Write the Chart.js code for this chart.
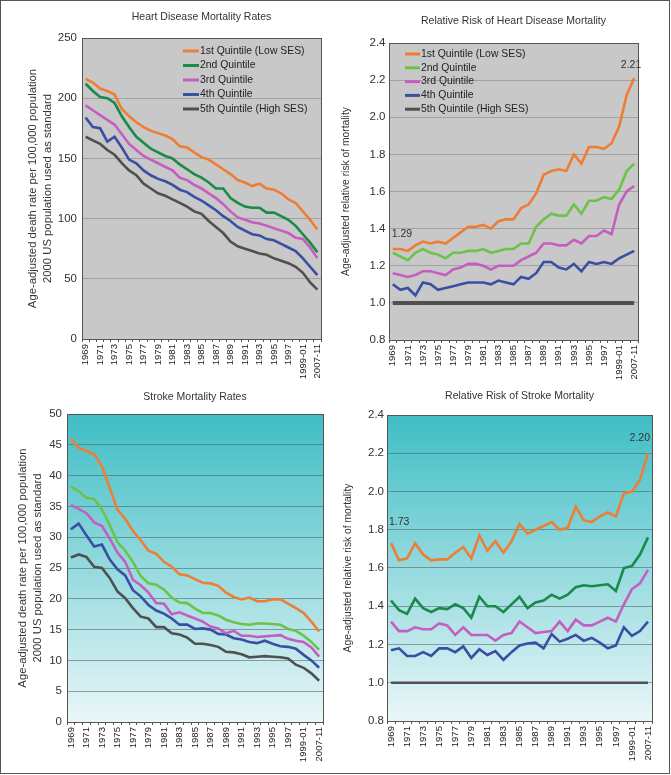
<!DOCTYPE html>
<html>
<head>
<meta charset="utf-8">
<script src="https://cdn.jsdelivr.net/npm/chart.js@4.4.1/dist/chart.umd.min.js"></script>
<style>
  body { margin: 0; background: #fff; }
  #page { position: relative; width: 671px; height: 775px; }
  #frame { position: absolute; left: 0; top: 0; width: 670px; height: 774px; box-sizing: border-box; border: 1px solid #555; pointer-events: none; }
  canvas { position: absolute; }
</style>
</head>
<body>
<div id="page">
  <canvas id="heartRate" width="335" height="385" style="left:0;top:0"></canvas>
  <canvas id="heartRisk" width="336" height="385" style="left:335px;top:0"></canvas>
  <canvas id="strokeRate" width="335" height="390" style="left:0;top:385px"></canvas>
  <canvas id="strokeRisk" width="336" height="390" style="left:335px;top:385px"></canvas>
  <div id="frame"></div>
</div>
<script>
const periods = ['1969','1970','1971','1972','1973','1974','1975','1976','1977','1978',
  '1979','1980','1981','1982','1983','1984','1985','1986','1987','1988',
  '1989','1990','1991','1992','1993','1994','1995','1996','1997','1998',
  '1999-01','2002-06','2007-11'];
const quintiles = ['1st Quintile (Low SES)', '2nd Quintile', '3rd Quintile', '4th Quintile', '5th Quintile (High SES)'];

// heart disease death rates per 100,000
const heartQ1 = [216,213,208,206,203,191,185,180,176,173,171,169,166,160,159,155,151,149,145,141,137,132,130,127,129,125,124,121,116,113,106,99,91];
const heartQ2 = [212,206,201,200,196,185,176,168,163,158,155,152,150,145,141,137,134,130,125,125,117,113,110,109,109,105,105,102,99,94,87,80,72];
const heartQ3 = [194,190,186,182,178,170,162,157,152,149,146,143,140,134,132,128,125,121,117,112,106,101,99,97,96,94,92,90,88,84,83,76,67];
const heartQ4 = [184,176,175,164,168,159,149,146,140,136,133,131,128,124,122,118,115,111,107,102,98,93,90,87,86,83,82,79,76,73,67,60,53];
const heartQ5 = [168,165,162,157,153,146,140,136,129,125,121,119,116,113,110,106,104,98,93,88,81,77,75,73,71,70,67,65,63,60,55,47,41];

// heart disease relative risk (vs 5th quintile)
const heartRiskQ1 = [1.29,1.29,1.28,1.31,1.33,1.32,1.33,1.32,1.35,1.38,1.41,1.41,1.42,1.40,1.44,1.45,1.45,1.51,1.53,1.59,1.69,1.71,1.72,1.71,1.80,1.75,1.84,1.84,1.83,1.86,1.95,2.12,2.21];
const heartRiskQ2 = [1.27,1.25,1.23,1.27,1.29,1.27,1.26,1.24,1.27,1.27,1.28,1.28,1.29,1.27,1.28,1.29,1.29,1.32,1.32,1.41,1.45,1.48,1.47,1.47,1.53,1.48,1.55,1.55,1.57,1.56,1.61,1.71,1.75];
const heartRiskQ3 = [1.16,1.15,1.14,1.15,1.17,1.17,1.16,1.15,1.18,1.19,1.21,1.21,1.20,1.18,1.20,1.20,1.20,1.23,1.25,1.27,1.32,1.32,1.31,1.31,1.34,1.32,1.36,1.36,1.39,1.37,1.53,1.60,1.63];
const heartRiskQ4 = [1.10,1.07,1.08,1.04,1.11,1.10,1.07,1.08,1.09,1.10,1.11,1.11,1.11,1.10,1.12,1.11,1.10,1.14,1.13,1.16,1.22,1.22,1.19,1.18,1.21,1.17,1.22,1.21,1.22,1.21,1.24,1.26,1.28];
const heartRiskQ5 = [1,1,1,1,1,1,1,1,1,1,1,1,1,1,1,1,1,1,1,1,1,1,1,1,1,1,1,1,1,1,1,1,1];

// stroke death rates per 100,000
const strokeQ1 = [46.0,44.5,44.0,43.5,41.5,38.0,34.5,33.0,31.0,29.5,27.8,27.3,26.0,25.2,24.0,23.8,23.2,22.6,22.5,22.1,21.0,20.3,19.9,20.2,19.6,19.6,19.9,19.9,19.2,18.5,17.7,16.3,14.7];
const strokeQ2 = [38.2,37.5,36.4,36.2,34.5,32.0,29.2,27.8,26.0,23.7,22.5,22.3,21.5,20.2,19.4,19.3,18.4,17.7,17.7,17.3,16.6,16.2,15.9,15.8,16.0,16.0,15.9,15.8,15.1,14.8,14.0,13.0,11.7];
const strokeQ3 = [35.2,34.6,33.9,32.4,31.8,29.8,27.5,26.0,23.1,22.2,21.0,19.3,19.2,17.5,17.8,17.3,16.8,16.3,15.5,15.2,14.4,14.8,14.0,14.0,13.8,13.9,14.0,14.1,13.5,13.2,13.0,12.1,10.6];
const strokeQ4 = [31.3,32.2,30.3,28.5,28.8,26.4,24.8,23.8,21.4,20.4,19.0,18.1,17.6,16.8,15.8,15.8,15.1,15.2,15.0,14.3,14.2,13.6,13.4,13.0,12.8,13.2,12.7,12.3,12.2,11.9,10.9,10.0,8.8];
const strokeQ5 = [26.7,27.2,26.8,25.2,25.0,23.4,21.2,20.1,18.5,17.1,16.8,15.4,15.4,14.4,14.2,13.7,12.7,12.7,12.5,12.2,11.4,11.3,11.0,10.5,10.6,10.7,10.6,10.5,10.3,9.3,8.8,7.9,6.7];

// stroke relative risk
const strokeRiskQ1 = [1.73,1.64,1.65,1.73,1.67,1.64,1.645,1.645,1.68,1.71,1.65,1.77,1.69,1.74,1.68,1.74,1.83,1.78,1.80,1.82,1.84,1.80,1.81,1.92,1.85,1.84,1.87,1.89,1.87,1.99,2.00,2.06,2.20];
const strokeRiskQ2 = [1.43,1.38,1.36,1.44,1.39,1.37,1.39,1.385,1.41,1.39,1.34,1.45,1.40,1.40,1.37,1.41,1.45,1.39,1.42,1.43,1.46,1.44,1.46,1.50,1.51,1.505,1.51,1.515,1.48,1.60,1.61,1.67,1.76];
const strokeRiskQ3 = [1.32,1.27,1.27,1.29,1.28,1.28,1.31,1.30,1.25,1.29,1.25,1.25,1.25,1.22,1.25,1.26,1.32,1.29,1.26,1.265,1.27,1.32,1.27,1.33,1.30,1.30,1.32,1.34,1.32,1.41,1.49,1.52,1.59];
const strokeRiskQ4 = [1.17,1.18,1.14,1.14,1.16,1.14,1.18,1.18,1.16,1.19,1.13,1.175,1.145,1.165,1.12,1.16,1.195,1.205,1.21,1.18,1.255,1.215,1.23,1.25,1.22,1.235,1.21,1.18,1.195,1.29,1.245,1.27,1.32];
const strokeRiskQ5 = [1,1,1,1,1,1,1,1,1,1,1,1,1,1,1,1,1,1,1,1,1,1,1,1,1,1,1,1,1,1,1,1,1];

const ORANGE = '#ee7d36', DKGREEN = '#198a49', LTGREEN = '#6cc34a', MAGENTA = '#c55ec0', BLUE = '#3a4ea4', GREY = '#505050';
const FONT = '"Liberation Sans", Arial, sans-serif';

Chart.defaults.font.family = FONT;
Chart.defaults.color = '#333';

// background + frame of the plot area
const plotFrame = {
  id: 'plotFrame',
  beforeDraw(chart, args, opts) {
    const {ctx, chartArea: a} = chart;
    ctx.save();
    if (opts.gradient) {
      const g = ctx.createLinearGradient(0, a.top, 0, a.bottom);
      g.addColorStop(0, opts.gradient[0]);
      g.addColorStop(1, opts.gradient[1]);
      ctx.fillStyle = g;
    } else {
      ctx.fillStyle = opts.fill;
    }
    ctx.fillRect(a.left, a.top, a.right - a.left, a.bottom - a.top);
    ctx.restore();
  },
  afterDraw(chart) {
    const {ctx, chartArea: a} = chart;
    ctx.save();
    ctx.strokeStyle = '#555';
    ctx.lineWidth = 1;
    ctx.strokeRect(Math.round(a.left) + 0.5, Math.round(a.top) + 0.5, Math.round(a.right - a.left), Math.round(a.bottom - a.top));
    ctx.restore();
  }
};

// legend drawn inside the plot
const inLegend = {
  id: 'inLegend',
  afterDraw(chart, args, opts) {
    if (!opts.show) return;
    const {ctx, chartArea: a} = chart;
    ctx.save();
    ctx.font = '10.4px ' + FONT;
    ctx.textBaseline = 'middle';
    chart.data.datasets.forEach((ds, i) => {
      const x = a.left + opts.dx, y = a.top + opts.dy + i * opts.step;
      ctx.strokeStyle = ds.borderColor;
      ctx.lineWidth = 3;
      ctx.beginPath();
      ctx.moveTo(x, y);
      ctx.lineTo(x + opts.len, y);
      ctx.stroke();
      ctx.fillStyle = '#222';
      ctx.fillText(ds.label, x + opts.len + 1, y);
    });
    ctx.restore();
  }
};

// value labels at first/last point
const valueTags = {
  id: 'valueTags',
  afterDraw(chart, args, opts) {
    if (!opts.items) return;
    const ctx = chart.ctx;
    ctx.save();
    ctx.font = '10.5px ' + FONT;
    ctx.fillStyle = '#333';
    ctx.textBaseline = 'middle';
    opts.items.forEach(it => {
      const pt = chart.getDatasetMeta(it.ds).data[it.idx];
      const v = chart.data.datasets[it.ds].data[it.idx];
      ctx.textAlign = it.align;
      ctx.fillText(v.toFixed(2), pt.x + it.dx, pt.y + it.dy);
    });
    ctx.restore();
  }
};

function makePanel(id, p) {
  const colors = [ORANGE, p.green, MAGENTA, BLUE, GREY];
  const datasets = p.series.map((s, i) => ({
    label: quintiles[i],
    data: s,
    borderColor: colors[i],
    backgroundColor: colors[i],
    borderWidth: i === 4 ? p.lastWidth : 2.6,
    pointRadius: 0,
    tension: 0
  }));
  return new Chart(document.getElementById(id), {
    type: 'line',
    data: { labels: periods, datasets },
    options: {
      responsive: false,
      animation: false,
      events: [],
      layout: { padding: { left: 0, right: p.padRight, top: 0, bottom: 0 } },
      plugins: {
        legend: { display: false },
        tooltip: { enabled: false },
        title: {
          display: true, text: p.title, fullSize: false, color: '#333',
          font: { size: 10.5, weight: 'normal' },
          padding: { top: p.titleTop, bottom: p.titleBottom }
        },
        plotFrame: { fill: p.fill, gradient: p.gradient },
        inLegend: p.legend || {},
        valueTags: { items: p.tags }
      },
      scales: {
        x: {
          offset: true,
          grid: { offset: true, drawOnChartArea: false, drawTicks: true, tickLength: 3, color: '#555' },
          border: { color: '#555' },
          ticks: {
            autoSkip: false, minRotation: 90, maxRotation: 90, padding: 2,
            font: { size: 9.6 }, color: '#222',
            callback: (v, i) => (i % 2 === 0 ? periods[i] : '')
          },
          afterFit: s => { s.height = p.xHeight; s.paddingLeft = 0; s.paddingRight = 0; }
        },
        y: {
          min: p.min, max: p.max,
          grid: { color: p.gridColor, drawTicks: false },
          border: { color: '#555' },
          ticks: {
            stepSize: p.step, padding: p.tickPad, font: { size: 11.5 }, color: '#333',
            callback: v => p.decimals ? v.toFixed(1) : v
          },
          title: {
            display: true, text: p.yTitle, color: '#333',
            font: { size: p.yTitleSize, lineHeight: 1.3 },
            padding: { top: p.yTitlePad, bottom: 0 }
          },
          afterFit: s => { s.width = p.yWidth; }
        }
      }
    },
    plugins: [plotFrame, inLegend, valueTags]
  });
}

makePanel('heartRate', {
  title: 'Heart Disease Mortality Rates',
  series: [heartQ1, heartQ2, heartQ3, heartQ4, heartQ5],
  green: DKGREEN, lastWidth: 2.6,
  min: 0, max: 250, step: 50, decimals: false,
  yTitle: ['Age-adjusted death rate per 100,000 population', '2000 US population used as standard'],
  yTitleSize: 11.3, yTitlePad: 25.5,
  yWidth: 82, padRight: 14, xHeight: 46, tickPad: 5,
  titleTop: 10.7, titleBottom: 14.7,
  fill: '#c8c8c8', gridColor: '#a2a2a2',
  legend: { show: true, dx: 101, dy: 13, step: 14.5, len: 16 }
});

makePanel('heartRisk', {
  title: 'Relative Risk of Heart Disease Mortality',
  series: [heartRiskQ1, heartRiskQ2, heartRiskQ3, heartRiskQ4, heartRiskQ5],
  green: LTGREEN, lastWidth: 4,
  min: 0.8, max: 2.4, step: 0.2, decimals: true,
  yTitle: 'Age-adjusted relative risk of mortality',
  yTitleSize: 10.3, yTitlePad: 4,
  yWidth: 54, padRight: 33, xHeight: 45, tickPad: 3.5,
  titleTop: 14.4, titleBottom: 16,
  fill: '#c8c8c8', gridColor: '#a2a2a2',
  legend: { show: true, dx: 16, dy: 11, step: 13.8, len: 15 },
  tags: [
    { ds: 0, idx: 0, dx: -1, dy: -15, align: 'left' },
    { ds: 0, idx: 32, dx: 7, dy: -13, align: 'right' }
  ]
});

makePanel('strokeRate', {
  title: 'Stroke Mortality Rates',
  series: [strokeQ1, strokeQ2, strokeQ3, strokeQ4, strokeQ5],
  green: LTGREEN, lastWidth: 2.6,
  min: 0, max: 50, step: 5, decimals: false,
  yTitle: ['Age-adjusted death rate per 100,000 population', '2000 US population used as standard'],
  yTitleSize: 11.3, yTitlePad: 15.5,
  yWidth: 67, padRight: 12, xHeight: 53, tickPad: 5,
  titleTop: 5.7, titleBottom: 10.7,
  gradient: ['#3ebec4', '#eaf6f8'], gridColor: 'rgba(70,95,100,0.55)'
});

makePanel('strokeRisk', {
  title: 'Relative Risk of Stroke Mortality',
  series: [strokeRiskQ1, strokeRiskQ2, strokeRiskQ3, strokeRiskQ4, strokeRiskQ5],
  green: DKGREEN, lastWidth: 2.6,
  min: 0.8, max: 2.4, step: 0.2, decimals: true,
  yTitle: 'Age-adjusted relative risk of mortality',
  yTitleSize: 10.3, yTitlePad: 6,
  yWidth: 52, padRight: 19, xHeight: 54, tickPad: 3,
  titleTop: 4.7, titleBottom: 12.7,
  gradient: ['#3ebec4', '#eaf6f8'], gridColor: 'rgba(70,95,100,0.55)',
  tags: [
    { ds: 0, idx: 0, dx: -2, dy: -21, align: 'left' },
    { ds: 0, idx: 32, dx: 2, dy: -15, align: 'right' }
  ]
});
</script>
</body>
</html>
